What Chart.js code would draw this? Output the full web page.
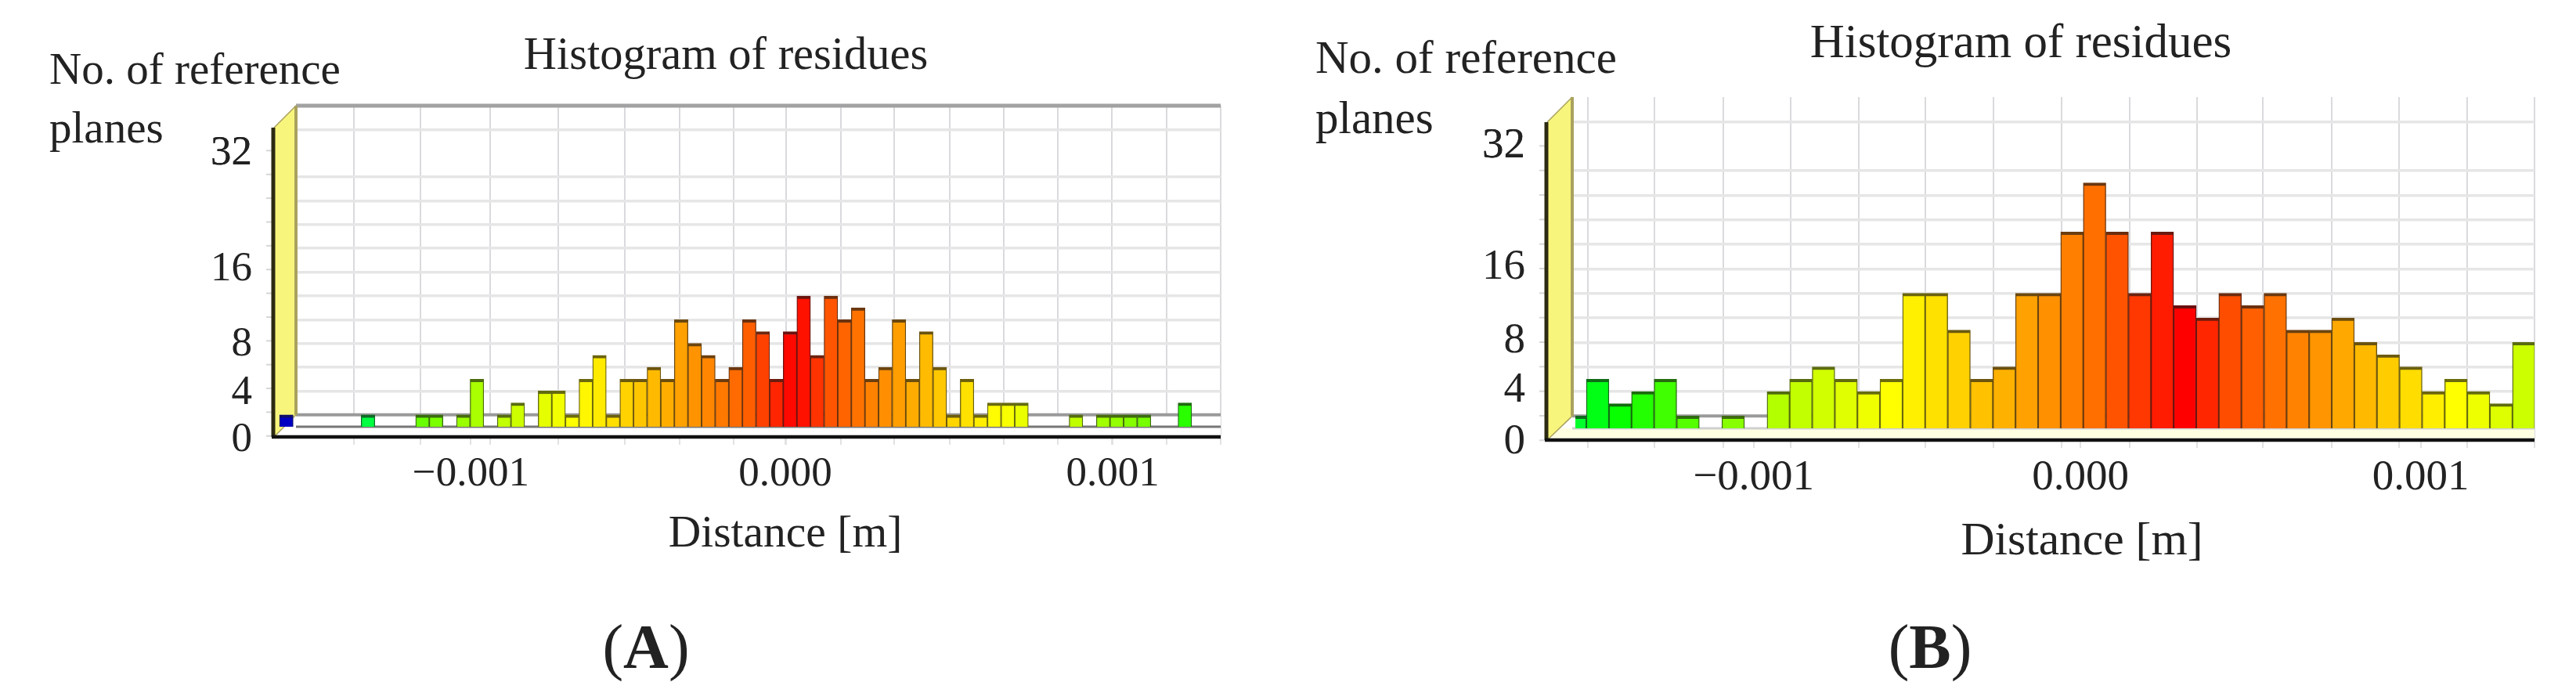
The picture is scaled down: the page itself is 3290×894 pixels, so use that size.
<!DOCTYPE html>
<html><head><meta charset="utf-8">
<style>
html,body{margin:0;padding:0;background:#fff;width:3290px;height:894px;overflow:hidden}
canvas{position:absolute;top:0;filter:blur(0.7px)}
#a{left:0}#b{left:1645px}
</style>
<script src="https://cdn.jsdelivr.net/npm/chart.js@4"></script>
</head><body>
<canvas id="a" width="1645" height="894"></canvas>
<canvas id="b" width="1645" height="894"></canvas>
<script>
// Distance [m] of the first bin centre, and bin width
const binStartA = -0.0015394, binWidthA = 0.000042;
const binStartB = -0.001515,  binWidthB = 0.00006772;

// No. of reference planes per bin
const countsA = [1,0,0,0,0,0,1,0,0,0,1,1,0,1,4,0,1,2,0,3,3,1,4,6,1,4,4,5,4,9,7,6,4,5,9,8,4,8,11,6,11,9,10,4,5,9,4,8,5,1,4,1,2,2,2,0,0,0,1,0,1,1,1,1,0,0,2,0,0];
const countsB = [1,4,2,3,4,1,0,1,0,3,4,5,4,3,4,11,11,8,4,5,11,11,16,20,16,11,16,10,9,11,10,11,8,8,9,7,6,5,3,4,3,2,7];

// Axis ticks
const xTickValuesA = [-0.00097,0,0.00101];
const xTickValuesB = [-0.00098,0,0.00102];
const xTickLabels  = ['\u22120.001','0.000','0.001'];
const yTickLabels  = ['0','4','8','16','32'];
const yTickValuesA = [-1.1,2.8,6.9,13.2,23];
const yTickValuesB = [-1.1,3.1,7.1,13.1,23];
const yGridValues  = [1,3,5,7,9,11,13,15,17,19,21,23,25];
const xGridValuesA = [-0.001331,-0.001126,-0.000911,-0.0007,-0.000495,-0.000326,-0.000159,0.000002,0.000171,0.000336,0.000507,0.000674,0.000841,0.001007,0.001176,0.001343];
const xGridValuesB = [-0.001477,-0.001277,-0.00107,-0.000869,-0.000664,-0.000465,-0.000261,-0.000056,0.000148,0.00035,0.000547,0.000754,0.000955,0.00116,0.001362];

// Hue along the bins: [bin index, hue]
const hueStopsA = [[0,240],[1,200],[6,135],[10,95],[14,80],[23,55],[29,38],[34,22],[37,2],[38,4],[40,20],[47,44],[54,65],[58,75],[63,92],[66,110],[68,120]];
const hueStopsB = [[0,130],[1,125],[4,105],[5,100],[7,88],[9,78],[14,60],[16,53],[20,38],[23,26],[27,0],[29,18],[36,48],[42,72]];

function hueAt(stops,i){
  for(let k=1;k<stops.length;k++){
    if(i<=stops[k][0]){
      const [a,ha]=stops[k-1],[b,hb]=stops[k];
      return ha+(hb-ha)*(i-a)/(b-a);
    }
  }
  return stops[stops.length-1][1];
}

const decorate = {
  id:'decorate',
  beforeDatasetsDraw(chart,args,o){
    const {ctx,chartArea:ca,scales:{y}}=chart;
    const d=o.depth, xb=ca.left+d, y0=y.getPixelForValue(0), y1=y.getPixelForValue(1);
    ctx.save();
    // floor
    ctx.fillStyle='#fff';
    ctx.beginPath();ctx.moveTo(ca.left,ca.bottom);ctx.lineTo(xb,y1);ctx.lineTo(ca.right,y1);ctx.lineTo(ca.right,ca.bottom);ctx.closePath();ctx.fill();
    ctx.fillStyle=o.floorTint;
    ctx.fillRect(ca.left+6,y0,ca.width-6,ca.bottom-y0-3);
    // floor lines
    ctx.strokeStyle='#9a9a9a';ctx.lineWidth=4;
    ctx.beginPath();ctx.moveTo(xb,y1);ctx.lineTo(ca.right,y1);ctx.stroke();
    ctx.strokeStyle=o.baseColor;ctx.lineWidth=3;
    ctx.beginPath();ctx.moveTo(xb,y0);ctx.lineTo(ca.right,y0);ctx.stroke();
    // top border
    if(o.topLine){
      ctx.strokeStyle='#a2a2a2';ctx.lineWidth=5;
      ctx.beginPath();ctx.moveTo(xb,ca.top);ctx.lineTo(ca.right,ca.top);ctx.stroke();
    }
    // side wall
    ctx.fillStyle='#f8f57c';
    ctx.beginPath();ctx.moveTo(ca.left,ca.top+d);ctx.lineTo(xb,ca.top);ctx.lineTo(xb,y1);ctx.lineTo(ca.left,ca.bottom);ctx.closePath();ctx.fill();
    ctx.strokeStyle='#a9a25e';ctx.lineWidth=4;
    ctx.beginPath();ctx.moveTo(xb,ca.top);ctx.lineTo(xb,y1);ctx.stroke();
    ctx.lineWidth=1.5;
    ctx.beginPath();ctx.moveTo(ca.left,ca.top+d);ctx.lineTo(xb,ca.top);ctx.moveTo(ca.left,ca.bottom);ctx.lineTo(xb,y1);ctx.stroke();
    // tick stubs on the wall edge
    ctx.strokeStyle='#d6d6d6';ctx.lineWidth=2;
    for(const v of yGridValues){
      const p=y.getPixelForValue(v)+d-1;
      if(p>ca.top+d){ctx.beginPath();ctx.moveTo(ca.left-10,p);ctx.lineTo(ca.left-2,p);ctx.stroke();}
    }
    ctx.restore();
  },
  afterDatasetsDraw(chart,args,o){
    const {ctx,chartArea:ca}=chart;
    ctx.save();
    ctx.strokeStyle='#2c2a12';ctx.lineWidth=5;
    ctx.beginPath();ctx.moveTo(ca.left-1,ca.top+o.depth);ctx.lineTo(ca.left-1,ca.bottom);ctx.stroke();
    ctx.strokeStyle='#111';ctx.lineWidth=4.5;
    ctx.beginPath();ctx.moveTo(ca.left-3,ca.bottom);ctx.lineTo(ca.right,ca.bottom);ctx.stroke();
    ctx.fillStyle='#222';ctx.textBaseline='alphabetic';
    for(const t of o.texts){
      ctx.font=t.font;ctx.textAlign=t.align;ctx.fillText(t.text,t.x,t.y);
    }
    // panel letter: regular parentheses, bold letter
    const p=o.panel;
    const reg=p.size+'px "Liberation Serif"', bold='bold '+p.size+'px "Liberation Serif"';
    ctx.textAlign='left';
    ctx.font=reg;const w1=ctx.measureText('(').width;
    ctx.font=bold;const w2=ctx.measureText(p.letter).width;
    let x=p.cx-(2*w1+w2)/2;
    ctx.font=reg;ctx.fillText('(',x,p.y);
    ctx.font=bold;ctx.fillText(p.letter,x+w1,p.y);
    ctx.font=reg;ctx.fillText(')',x+w1+w2,p.y);
    ctx.restore();
  }
};

function makeChart(id,cfg){
  const xLabelMap=new Map(cfg.xTickValues.map((v,i)=>[v,xTickLabels[i]]));
  const yLabelMap=new Map(cfg.yTickValues.map((v,i)=>[v,yTickLabels[i]]));
  const points=cfg.counts.map((c,i)=>({x:cfg.binStart+i*cfg.binWidth,y:c}));
  const hue=i=>hueAt(cfg.hueStops,i);
  const plotWidth=1645-cfg.left-cfg.rightPad;
  const binPixels=cfg.binWidth/(cfg.xMax-cfg.xMin)*plotWidth;
  return new Chart(document.getElementById(id),{
    type:'bar',
    data:{datasets:[{
      label:'No. of reference planes',
      data:points,
      barThickness:binPixels,
      backgroundColor:c=>`hsl(${hue(c.dataIndex)},100%,${hue(c.dataIndex)>200?38:50}%)`,
      borderColor:c=>`hsl(${hue(c.dataIndex)},75%,24%)`,
      borderWidth:cfg.border,
      borderSkipped:false,
      clip:{left:-cfg.clipLeft,right:0,top:0,bottom:0}
    }]},
    options:{
      responsive:false,animation:false,
      layout:{padding:{left:0,top:cfg.top,right:cfg.rightPad,bottom:0}},
      plugins:{legend:{display:false},tooltip:{enabled:false},title:{display:false},
        decorate:{depth:cfg.depth,topLine:cfg.topLine,baseColor:cfg.baseColor,floorTint:cfg.floorTint,texts:cfg.texts,panel:cfg.panel}},
      scales:{
        x:{type:'linear',min:cfg.xMin,max:cfg.xMax,offset:false,
          afterBuildTicks:s=>{s.ticks=[...cfg.xGrid,...cfg.xTickValues].sort((a,b)=>a-b).map(v=>({value:v}));},
          afterFit:s=>{s.height=894-cfg.bottom;},
          grid:{offset:false,drawTicks:true,tickLength:10,lineWidth:2,
            color:c=>c.tick&&xLabelMap.has(c.tick.value)?'rgba(0,0,0,0)':'#dadade',
            tickColor:'#e2e2e2'},
          border:{display:false},
          ticks:{autoSkip:false,maxRotation:0,minRotation:0,padding:cfg.xPad,color:'#222',
            font:{family:'"Liberation Serif"',size:cfg.tickSize},
            callback:v=>xLabelMap.has(v)?xLabelMap.get(v):''}},
        y:{type:'linear',min:cfg.yMin,max:27,
          afterBuildTicks:s=>{s.ticks=[...yGridValues,...cfg.yTickValues].sort((a,b)=>a-b).map(v=>({value:v}));},
          afterFit:s=>{s.width=cfg.left;},
          grid:{drawTicks:false,lineWidth:3.5,
            color:c=>c.tick&&yLabelMap.has(c.tick.value)?'rgba(0,0,0,0)':'#e6e6e6'},
          border:{display:false},
          ticks:{autoSkip:false,padding:28,color:'#222',
            font:{family:'"Liberation Serif"',size:cfg.tickSize},
            callback:v=>yLabelMap.has(v)?yLabelMap.get(v):''}}
      }
    },
    plugins:[decorate]
  });
}

makeChart('a',{
  counts:countsA,binStart:binStartA,binWidth:binWidthA,hueStops:hueStopsA,
  xTickValues:xTickValuesA,yTickValues:yTickValuesA,xGrid:xGridValuesA,
  xMin:-0.0015773,xMax:0.001343,yMin:-0.857,
  left:350,top:135,bottom:558,rightPad:86,depth:28,clipLeft:0,
  border:{top:4,left:1.3,right:1.3,bottom:0},
  topLine:true,baseColor:'#777',floorTint:'rgba(255,255,190,0.0)',
  tickSize:53,xPad:6,
  texts:[
    {text:'Histogram of residues',x:927,y:88,align:'center',font:'58.5px "Liberation Serif"'},
    {text:'No. of reference',x:63,y:107,align:'left',font:'57px "Liberation Serif"'},
    {text:'planes',x:63,y:182,align:'left',font:'57px "Liberation Serif"'},
    {text:'Distance [m]',x:1003,y:698,align:'center',font:'57.5px "Liberation Serif"'}
  ],
  panel:{letter:'A',cx:825,y:853,size:80}
});
makeChart('b',{
  counts:countsB,binStart:binStartB,binWidth:binWidthB,hueStops:hueStopsB,
  xTickValues:xTickValuesB,yTickValues:yTickValuesB,xGrid:xGridValuesB,
  xMin:-0.0015986,xMax:0.0013615,yMin:-0.957,
  left:331,top:124,bottom:562,rightPad:53,depth:32,clipLeft:36,
  border:{top:4,left:1.4,right:1.4,bottom:0},
  topLine:false,baseColor:'#d0d0d0',floorTint:'rgba(255,255,170,0.35)',
  tickSize:55,xPad:6,
  texts:[
    {text:'Histogram of residues',x:2581-1645,y:73,align:'center',font:'61px "Liberation Serif"'},
    {text:'No. of reference',x:1680-1645,y:93,align:'left',font:'59px "Liberation Serif"'},
    {text:'planes',x:1680-1645,y:170,align:'left',font:'59px "Liberation Serif"'},
    {text:'Distance [m]',x:2659-1645,y:708,align:'center',font:'59.5px "Liberation Serif"'}
  ],
  panel:{letter:'B',cx:2465-1645,y:853,size:80}
});
</script>
</body></html>
